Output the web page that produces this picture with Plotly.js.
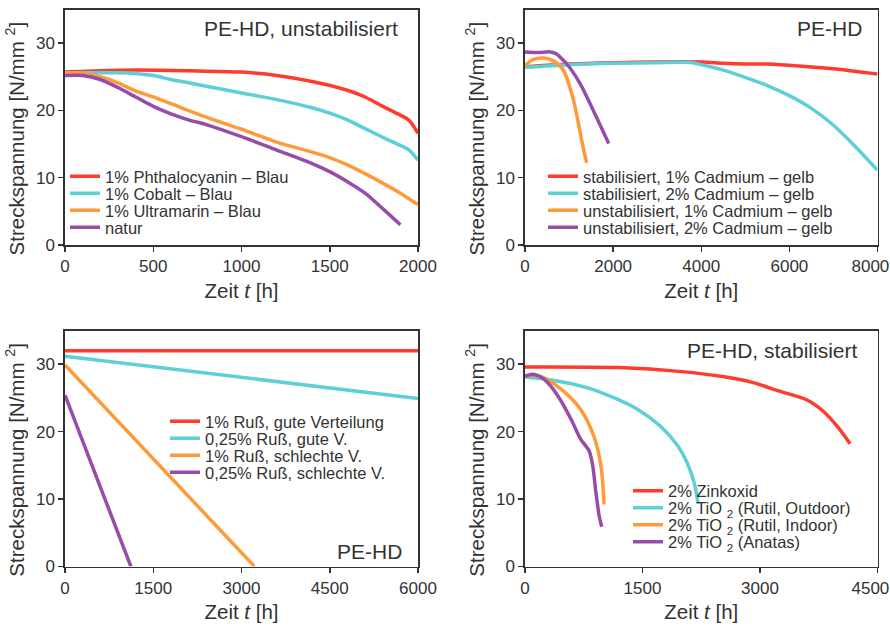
<!DOCTYPE html>
<html>
<head>
<meta charset="utf-8">
<script src="https://cdn.plot.ly/plotly-3.0.1.min.js"></script>
<style>
  html, body { margin: 0; padding: 0; background: #ffffff; }
  #chart { width: 890px; height: 626px; }
</style>
</head>
<body>
<div id="chart"></div>
<script>
// ---------- Data ----------
// Panel 1: PE-HD, unstabilisiert
const p1Names = ["1% Phthalocyanin – Blau", "1% Cobalt – Blau", "1% Ultramarin – Blau", "natur"];
const p1PhthaloX = [0, 200, 400, 700, 1000, 1200, 1400, 1600, 1700, 1800, 1900, 1950, 2000];
const p1PhthaloY = [25.7, 25.9, 26.0, 25.9, 25.7, 25.2, 24.3, 23.0, 22.0, 20.6, 19.3, 18.5, 16.6];
const p1CobaltX = [0, 300, 400, 500, 600, 700, 800, 1000, 1200, 1400, 1500, 1600, 1700, 1800, 1900, 1950, 2000];
const p1CobaltY = [25.6, 25.6, 25.5, 25.2, 24.6, 24.1, 23.6, 22.6, 21.6, 20.4, 19.6, 18.6, 17.3, 16.0, 14.8, 14.1, 12.6];
const p1UltraX = [0, 100, 200, 300, 400, 500, 600, 800, 1000, 1200, 1400, 1500, 1600, 1700, 1800, 1900, 2000];
const p1UltraY = [25.6, 25.5, 25.0, 24.1, 22.9, 22.0, 21.0, 19.0, 17.2, 15.3, 13.8, 13.0, 11.9, 10.6, 9.2, 7.7, 6.0];
const p1NaturX = [0, 100, 200, 300, 400, 500, 600, 700, 800, 1000, 1200, 1400, 1500, 1600, 1700, 1800, 1900];
const p1NaturY = [25.2, 25.2, 24.6, 23.4, 22.0, 20.6, 19.5, 18.6, 17.9, 16.1, 14.1, 12.1, 10.9, 9.4, 7.7, 5.4, 3.0];

// Panel 2: PE-HD, Cadmium-gelb
const p2Names = ["stabilisiert, 1% Cadmium – gelb", "stabilisiert, 2% Cadmium – gelb",
                 "unstabilisiert, 1% Cadmium – gelb", "unstabilisiert, 2% Cadmium – gelb"];
const p2Stab1X = [0, 1000, 2000, 3000, 4000, 4500, 5000, 5500, 6000, 7000, 8000];
const p2Stab1Y = [26.5, 26.9, 27.1, 27.2, 27.2, 27.0, 26.9, 26.9, 26.7, 26.2, 25.4];
const p2Stab2X = [0, 1000, 2000, 3000, 3800, 4000, 4500, 5000, 5500, 6000, 6500, 7000, 7500, 8000];
const p2Stab2Y = [26.4, 26.8, 27.0, 27.1, 27.1, 26.8, 26.0, 24.9, 23.7, 22.2, 20.3, 17.8, 14.6, 11.1];
const p2Unst1X = [0, 40, 190, 415, 640, 870, 1060, 1170, 1285, 1400];
const p2Unst1Y = [26.6, 26.9, 27.6, 27.8, 27.4, 26.0, 22.5, 19.5, 15.6, 12.2];
const p2Unst2X = [0, 300, 570, 720, 800, 950, 1250, 1550, 1900];
const p2Unst2Y = [28.7, 28.6, 28.7, 28.4, 27.9, 26.9, 24.0, 20.0, 15.1];

// Panel 3: PE-HD, Ruß
const p3Names = ["1% Ruß, gute Verteilung", "0,25% Ruß, gute V.", "1% Ruß, schlechte V.", "0,25% Ruß, schlechte V."];
const p3GoodX = [0, 6000];
const p3GoodY = [32.0, 32.0];
const p3Good025X = [0, 6000];
const p3Good025Y = [31.2, 24.9];
const p3BadX = [0, 3220];
const p3BadY = [29.9, 0];
const p3Bad025X = [0, 1120];
const p3Bad025Y = [25.4, 0];

// Panel 4: PE-HD, stabilisiert
const p4Names = ["2% Zinkoxid", "2% TiO <sub>2</sub> (Rutil, Outdoor)", "2% TiO <sub>2</sub> (Rutil, Indoor)", "2% TiO <sub>2</sub> (Anatas)"];
const p4ZnOX = [0, 1200, 2000, 2500, 2900, 3250, 3600, 3800, 4000, 4150];
const p4ZnOY = [29.6, 29.5, 28.9, 28.2, 27.3, 26.0, 24.7, 23.1, 20.6, 18.2];
const p4OutX = [0, 370, 800, 1140, 1440, 1730, 1950, 2070, 2160, 2210];
const p4OutY = [28.1, 27.6, 26.5, 25.0, 23.3, 20.8, 17.9, 15.4, 12.4, 9.3];
const p4InX = [0, 200, 460, 710, 880, 970, 1010];
const p4InY = [28.3, 28.2, 26.3, 23.3, 19.3, 14.9, 9.2];
const p4AnaX = [0, 100, 250, 420, 590, 710, 820, 865, 905, 950, 980];
const p4AnaY = [28.2, 28.5, 27.7, 25.3, 21.8, 18.9, 17.1, 14.9, 11.0, 7.3, 5.9];

// Axis settings
const xRanges = [[0, 2000], [0, 8000], [0, 6000], [0, 4500]];
const xTicks = [[0, 500, 1000, 1500, 2000], [0, 2000, 4000, 6000, 8000], [0, 1500, 3000, 4500, 6000], [0, 1500, 3000, 4500]];
const yRange = [0, 35];
const yTicks = [0, 10, 20, 30];
const panelLabels = ["PE-HD, unstabilisiert", "PE-HD", "PE-HD", "PE-HD, stabilisiert"];

// ---------- Styling ----------
const colors = ["#FF3B2E", "#5CCFD9", "#FF9A38", "#984CA9"];
const FONT = "Liberation Sans, Arial, Helvetica, sans-serif";
const TXT = "#333333";
const LW = 3.5;
const W = 890, H = 626;

// legend entry placement (pixels): one single-entry legend per series
const legX = [65, 543, 165, 628];
const legY = [[176.5, 193.5, 210.5, 227.5], [176.5, 193.5, 210.5, 227.5],
              [421.5, 438.5, 455.5, 472.5], [491, 508, 525, 542]];

let legCounter = 0;
const legendLayouts = {};
function nextLegend(panel, row) {
  legCounter += 1;
  const key = legCounter === 1 ? "legend" : "legend" + legCounter;
  legendLayouts[key] = {
    x: legX[panel] / W, y: 1 - legY[panel][row] / H, xanchor: "left", yanchor: "middle",
    xref: "paper", yref: "paper",
    bgcolor: "rgba(0,0,0,0)", borderwidth: 0,
    font: { family: FONT, size: 16.5, color: TXT },
    itemwidth: 30
  };
  return key;
}

function mk(x, y, name, ci, panel, shape) {
  const axis = panel === 0 ? "" : String(panel + 1);
  return {
    type: "scatter", mode: "lines", x: x, y: y, name: name,
    xaxis: "x" + axis, yaxis: "y" + axis, legend: nextLegend(panel, ci),
    line: { color: colors[ci], width: LW, shape: shape, smoothing: 0.8 },
    hoverinfo: "skip"
  };
}

const traces = [
  mk(p1PhthaloX, p1PhthaloY, p1Names[0], 0, 0, "spline"),
  mk(p1CobaltX, p1CobaltY, p1Names[1], 1, 0, "spline"),
  mk(p1UltraX, p1UltraY, p1Names[2], 2, 0, "spline"),
  mk(p1NaturX, p1NaturY, p1Names[3], 3, 0, "spline"),

  mk(p2Stab1X, p2Stab1Y, p2Names[0], 0, 1, "spline"),
  mk(p2Stab2X, p2Stab2Y, p2Names[1], 1, 1, "spline"),
  mk(p2Unst1X, p2Unst1Y, p2Names[2], 2, 1, "spline"),
  mk(p2Unst2X, p2Unst2Y, p2Names[3], 3, 1, "spline"),

  mk(p3GoodX, p3GoodY, p3Names[0], 0, 2, "linear"),
  mk(p3Good025X, p3Good025Y, p3Names[1], 1, 2, "linear"),
  mk(p3BadX, p3BadY, p3Names[2], 2, 2, "linear"),
  mk(p3Bad025X, p3Bad025Y, p3Names[3], 3, 2, "linear"),

  mk(p4ZnOX, p4ZnOY, p4Names[0], 0, 3, "spline"),
  mk(p4OutX, p4OutY, p4Names[1], 1, 3, "spline"),
  mk(p4InX, p4InY, p4Names[2], 2, 3, "spline"),
  mk(p4AnaX, p4AnaY, p4Names[3], 3, 3, "spline")
];

const xDomL = [65 / W, 418 / W];
const xDomR = [525 / W, 877.5 / W];
const yDomT = [1 - 245 / H, 1 - 9.5 / H];
const yDomB = [1 - 566.5 / H, 1 - 330.5 / H];

// tick labels; the right-hand panels' last label is nudged left (like the reference) so it stays on the page
function tickText(vals, nudgeLast) {
  return vals.map((v, k) => (nudgeLast && k === vals.length - 1) ? String(v) + "&nbsp;&nbsp;&nbsp;" : String(v));
}

function xax(i, dom, anchor, nudgeLast) {
  return {
    domain: dom, anchor: anchor, range: xRanges[i], tickmode: "array", tickvals: xTicks[i],
    ticktext: tickText(xTicks[i], nudgeLast), ticklabeloverflow: "allow",
    showline: true, mirror: true, linecolor: TXT, linewidth: 1.6,
    ticks: "outside", ticklen: 5, tickwidth: 1.5, tickcolor: TXT,
    showgrid: false, zeroline: false,
    tickfont: { family: FONT, size: 17, color: TXT },
    title: { text: "Zeit <i>t</i> [h]", font: { family: FONT, size: 20.5, color: TXT }, standoff: 8 }
  };
}
function yax(dom, anchor) {
  return {
    domain: dom, anchor: anchor, range: yRange, tickmode: "array", tickvals: yTicks,
    ticklabeloverflow: "allow",
    showline: true, mirror: true, linecolor: TXT, linewidth: 1.6,
    ticks: "outside", ticklen: 5, tickwidth: 1.5, tickcolor: TXT,
    showgrid: false, zeroline: false,
    tickfont: { family: FONT, size: 17, color: TXT },
    title: { text: "Streckspannung [N/mm <sup>2</sup>]&nbsp;&nbsp;&nbsp;&nbsp;", font: { family: FONT, size: 20.5, color: TXT }, standoff: 6 }
  };
}
function lbl(text, xpx, ypx) {
  return {
    text: text, xref: "paper", yref: "paper", x: xpx / W, y: 1 - ypx / H,
    xanchor: "right", yanchor: "middle", showarrow: false,
    font: { family: FONT, size: 21, color: TXT }
  };
}

const layout = Object.assign({
  width: W, height: H,
  margin: { l: 0, r: 0, t: 0, b: 0 },
  paper_bgcolor: "#ffffff", plot_bgcolor: "#ffffff",
  font: { family: FONT, color: TXT },
  showlegend: true,
  xaxis: xax(0, xDomL, "y", false),   yaxis: yax(yDomT, "x"),
  xaxis2: xax(1, xDomR, "y2", true),  yaxis2: yax(yDomT, "x2"),
  xaxis3: xax(2, xDomL, "y3", false), yaxis3: yax(yDomB, "x3"),
  xaxis4: xax(3, xDomR, "y4", true),  yaxis4: yax(yDomB, "x4"),
  annotations: [
    lbl(panelLabels[0], 400, 28),
    lbl(panelLabels[1], 864, 28),
    lbl(panelLabels[2], 404, 551),
    lbl(panelLabels[3], 860, 350)
  ]
}, legendLayouts);

Plotly.newPlot("chart", traces, layout, { displayModeBar: false, staticPlot: true });
</script>
</body>
</html>
